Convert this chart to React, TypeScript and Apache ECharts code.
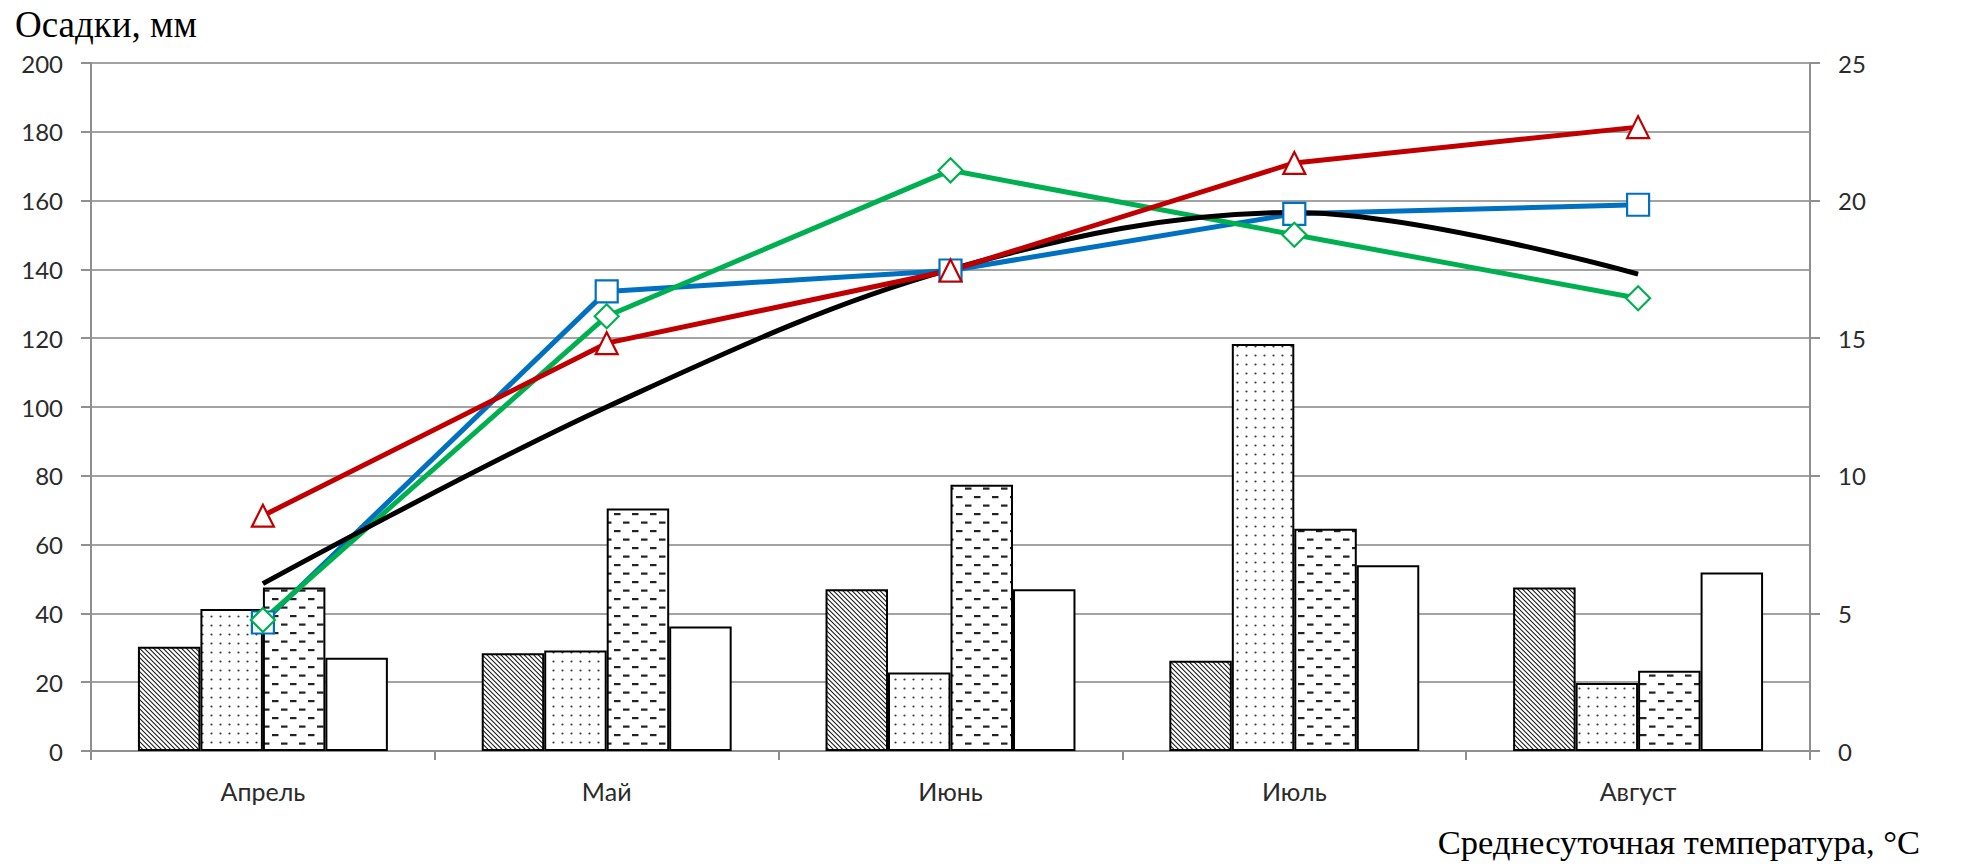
import React, { useEffect, useRef } from "react";
import * as echarts from "echarts";

// Months on the category axis
const months = ["Апрель", "Май", "Июнь", "Июль", "Август"];

// Precipitation, mm (left axis) — four bar groups per month
const precipHatched = [30.3, 28.4, 47, 26.2, 47.5];
const precipDotted = [41.3, 29.2, 22.8, 118.3, 19.8];
const precipDashed = [47.5, 70.5, 77.4, 64.6, 23.3];
const precipPlain = [27.1, 36.2, 47, 54, 51.9];

// Mean daily temperature, °C (right axis)
const tempBlue = [4.67, 16.7, 17.46, 19.52, 19.85];
const tempRed = [8.55, 14.82, 17.46, 21.37, 22.67];
const tempGreen = [4.76, 15.8, 21.1, 18.76, 16.45];
const tempBlack = [6.08, 12.5, 17.5, 19.57, 17.33];

// Axis ranges
const precipMax = 200;
const precipStep = 20;
const tempMax = 25;
const tempStep = 5;

const svgUrl = (w: number, h: number, body: string) =>
  "data:image/svg+xml;charset=utf-8," +
  encodeURIComponent(
    `<svg xmlns="http://www.w3.org/2000/svg" width="${w}" height="${h}">${body}</svg>`
  );

function hatchPattern() {
  const s = 14;
  const step = s / 3;
  let d = "";
  for (let k = -4; k <= 7; k++) {
    const o = k * step - s;
    d += `M${o - 3} ${-3}L${o + s + 3} ${s + 3}`;
  }
  return {
    image: svgUrl(
      s,
      s,
      `<rect width="${s}" height="${s}" fill="#fff"/><path d="${d}" stroke="#1a1a1a" stroke-width="1.05" fill="none"/>`
    ),
    repeat: "repeat",
    imageWidth: s,
    imageHeight: s,
  };
}

function dotPattern() {
  const s = 9;
  return {
    image: svgUrl(s, s, `<rect width="${s}" height="${s}" fill="#fff"/><circle cx="4.5" cy="4.5" r="1.1" fill="#3a3a3a"/>`),
    repeat: "repeat",
    imageWidth: s,
    imageHeight: s,
  };
}

function dashPattern() {
  const w = 18;
  const h = 17;
  return {
    image: svgUrl(
      w,
      h,
      `<rect width="${w}" height="${h}" fill="#fff"/><rect x="2" y="3" width="6.5" height="2.2" fill="#222"/><rect x="11" y="11.5" width="6.5" height="2.2" fill="#222"/>`
    ),
    repeat: "repeat",
    imageWidth: w,
    imageHeight: h,
  };
}

export default function App() {
  const ref = useRef<HTMLDivElement>(null);

  useEffect(() => {
    if (!ref.current) return;
    const chart = echarts.init(ref.current, undefined, { renderer: "svg" });

    const axisFont = { fontFamily: "Lato, 'Open Sans', sans-serif", fontSize: 24, color: "#2b2b2b" };
    const axisLineStyle = { color: "#8f8f8f", width: 2 };

    const barBase = (name: string, data: number[], color: any) => ({
      name,
      type: "bar",
      yAxisIndex: 0,
      data,
      barGap: "0%",
      barCategoryGap: "27.3%",
      itemStyle: { color, borderColor: "#000", borderWidth: 2 },
      z: 2,
    });

    const lineBase = (name: string, data: number[], color: string, symbol: string, symbolSize: number) => ({
      name,
      type: "line",
      yAxisIndex: 1,
      data,
      symbol,
      symbolSize,
      lineStyle: { color, width: 5 },
      itemStyle: { color: "#fff", borderColor: color, borderWidth: 2.2 },
      z: 3,
    });

    chart.setOption({
      animation: false,
      backgroundColor: "#fff",
      grid: { left: 91, right: 154, top: 63, bottom: 116, containLabel: false },
      xAxis: {
        type: "category",
        data: months,
        boundaryGap: true,
        axisLine: { show: true, lineStyle: axisLineStyle },
        axisTick: { show: true, length: 9, alignWithLabel: false, lineStyle: axisLineStyle },
        axisLabel: { ...axisFont, fontSize: 25, margin: 27 },
        splitLine: { show: false },
      },
      yAxis: [
        {
          type: "value",
          min: 0,
          max: precipMax,
          interval: precipStep,
          position: "left",
          axisLine: { show: true, lineStyle: axisLineStyle },
          axisTick: { show: true, length: 10, lineStyle: axisLineStyle },
          axisLabel: { ...axisFont, margin: 28 },
          splitLine: { show: true, lineStyle: { color: "#a3a3a3", width: 2 } },
        },
        {
          type: "value",
          min: 0,
          max: tempMax,
          interval: tempStep,
          position: "right",
          axisLine: { show: true, lineStyle: axisLineStyle },
          axisTick: { show: true, length: 10, lineStyle: axisLineStyle },
          axisLabel: { ...axisFont, margin: 28 },
          splitLine: { show: false },
        },
      ],
      graphic: [
        {
          type: "text",
          left: 15,
          top: 6,
          style: {
            text: "Осадки, мм",
            font: "37px 'Liberation Serif', 'Times New Roman', serif",
            fill: "#000",
          },
        },
        {
          type: "text",
          right: 44,
          bottom: 8,
          style: {
            text: "Среднесуточная температура, °C",
            font: "34.5px 'Liberation Serif', 'Times New Roman', serif",
            fill: "#000",
          },
        },
      ],
      series: [
        barBase("hatched", precipHatched, hatchPattern()),
        barBase("dotted", precipDotted, dotPattern()),
        barBase("dashed", precipDashed, dashPattern()),
        barBase("plain", precipPlain, "#fff"),
        lineBase("blue", tempBlue, "#0070c0", "rect", 22),
        lineBase("green", tempGreen, "#00b050", "diamond", 24),
        {
          name: "black",
          type: "line",
          yAxisIndex: 1,
          data: tempBlack,
          smooth: 0.35,
          symbol: "none",
          lineStyle: { color: "#000", width: 5 },
          z: 3,
        },
        lineBase("red", tempRed, "#c00000", "triangle", 22),
      ],
    });

    return () => chart.dispose();
  }, []);

  return (
    <div
      ref={ref}
      style={{ position: "absolute", left: 0, top: 0, width: 1964, height: 867 }}
    />
  );
}
